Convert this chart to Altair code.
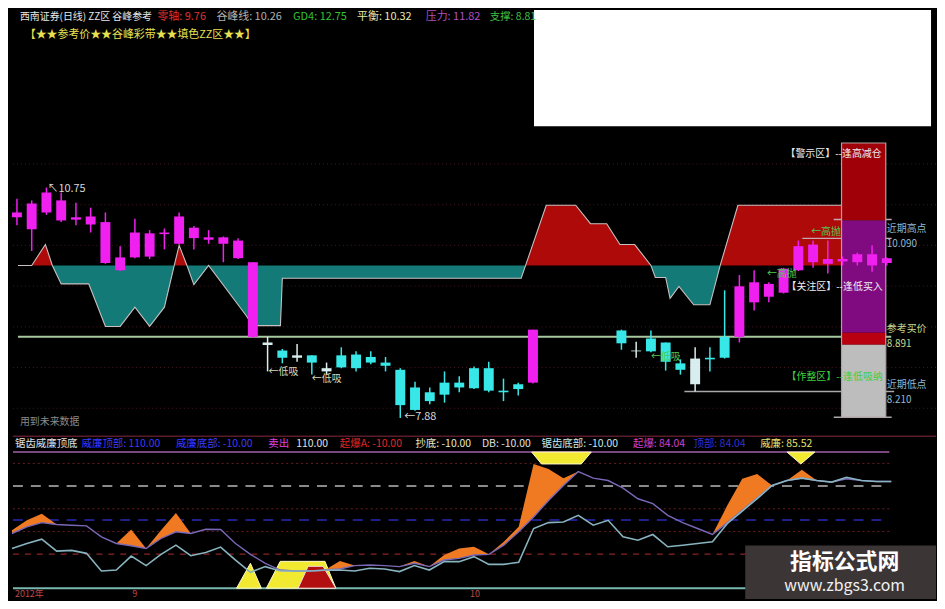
import altair as alt
import pandas as pd

FONT = "Noto Sans CJK SC"

# ---------------- price panel: candles (x = trading-day index) ----------------
cand_idx = list(range(0, 36)) + list(range(41, 60))
cand_open = [10.38, 10.23, 10.44, 10.34, 10.35, 10.29, 9.81, 9.72, 9.88, 9.89,
             10.17, 10.05, 10.12, 10.10, 10.05, 9.87, 8.89, 8.82, 8.72, 8.66,
             8.66, 8.50, 8.66, 8.67, 8.64, 8.57, 8.48, 8.26, 8.20, 8.32,
             8.32, 8.50, 8.50, 8.22, 8.30, 8.32,
             8.97, 8.72, 8.87, 8.82, 8.56, 8.62, 8.63, 8.89, 8.89, 9.32,
             9.39, 9.44, 9.72, 9.82, 9.80, 9.83, 9.82, 9.78, 9.81]
cand_close = [10.44, 10.55, 10.69, 10.59, 10.38, 10.39, 10.32, 9.88, 10.19, 10.18,
              10.19, 10.39, 10.25, 10.13, 10.13, 10.09, 9.82, 8.79, 8.63, 8.63,
              8.57, 8.46, 8.51, 8.50, 8.57, 8.53, 8.04, 7.98, 8.09, 8.17,
              8.26, 8.25, 8.22, 8.20, 8.24, 8.98,
              8.81, 8.71, 8.71, 8.58, 8.48, 8.30, 8.61, 8.63, 9.52, 9.57,
              9.55, 9.74, 10.02, 10.04, 9.86, 9.86, 9.92, 9.92, 9.87]
cand_high = [10.61, 10.59, 10.75, 10.69, 10.56, 10.50, 10.44, 10.02, 10.36, 10.22,
             10.24, 10.44, 10.27, 10.22, 10.14, 10.12, 9.82, 8.89, 8.74, 8.80,
             8.66, 8.57, 8.76, 8.71, 8.71, 8.64, 8.50, 8.33, 8.26, 8.46,
             8.40, 8.52, 8.58, 8.37, 8.32, 8.98,
             8.98, 8.83, 8.97, 8.82, 8.61, 8.76, 8.76, 9.47, 9.66, 9.72,
             9.57, 9.75, 10.09, 10.09, 10.09, 9.89, 9.94, 10.03, 9.88]
cand_low = [10.28, 9.96, 10.41, 10.32, 10.28, 10.19, 9.80, 9.71, 9.87, 9.86,
            9.98, 10.04, 9.98, 10.05, 9.82, 9.86, 8.88, 8.46, 8.56, 8.58,
            8.42, 8.42, 8.50, 8.46, 8.55, 8.46, 7.88, 7.97, 8.05, 8.07,
            8.20, 8.24, 8.20, 8.09, 8.16, 8.31,
            8.73, 8.63, 8.70, 8.47, 8.42, 8.21, 8.46, 8.62, 8.82, 9.22,
            9.32, 9.43, 9.71, 9.75, 9.68, 9.78, 9.78, 9.70, 9.78]
cand_kind = list("mmmmmmmmmmmmmmmmm") + list("wcwcwccccccccccccc") + ["m"] + \
            list("cwcccwcc") + list("mmmmmmmmmmm")

# ---------------- 谷峰彩带 band ----------------
band_x = [0.07, 1.0, 1.93, 2.4, 3.0, 4.87, 6.0, 7.0, 8.0, 9.0, 10.0, 10.67, 11.0, 11.53,
          12.0, 13.0, 15.53, 16.0, 17.87, 18.0, 34.2, 34.5, 35.9, 37.9, 38.9, 40.0,
          40.9, 41.9, 43.0, 43.3, 44.0, 44.3, 44.9, 45.9, 47.0, 47.7, 48.9, 55.9]
band_v = [9.78, 9.78, 10.04, 9.78, 9.55, 9.55, 9.02, 9.02, 9.26, 9.02, 9.26, 9.78, 10.03, 9.78,
          9.54, 9.78, 9.16, 9.03, 9.03, 9.62, 9.62, 9.78, 10.53, 10.53, 10.30, 10.30,
          10.04, 10.04, 9.78, 9.63, 9.63, 9.37, 9.52, 9.29, 9.29, 9.78, 10.53, 10.53]
band_zero = 9.78

# ---------------- reference levels ----------------
ref_buy = 8.891
grid_levels = [11.045, 10.537, 10.030, 9.523, 9.015, 8.508, 8.001]
seg_x1 = [55.4, 53.27, 45.27, 55.4]
seg_x2 = [59.33, 59.33, 59.5, 59.33]
seg_y = [10.352, 10.117, 8.211, 7.889]
seg_color = ["#c8a8b0", "#c8a8b0", "#a8a8a8", "#a8a8a8"]

zone_x1 = [55.93, 55.93, 55.93, 55.93]
zone_x2 = [58.93, 58.93, 58.93, 58.93]
zone_lo = [10.339, 8.941, 8.792, 7.889]
zone_hi = [11.305, 10.339, 8.941, 8.792]
zone_fill = ["#a00008", "#800a80", "#b80010", "#bdbdbd"]

# ---------------- indicator panel ----------------
osc_idx = list(range(60))
osc_purple = [38.2, 44.1, 47.8, 46.1, 45.5, 44.9, 35.3, 29.4, 27.4, 25.0,
              33.8, 39.7, 38.2, 41.9, 41.7, 29.4, 19.8, 11.9, 6.0, 5.2,
              5.2, 6.0, 6.9, 9.9, 10.4, 9.9, 9.0, 11.9, 9.0, 14.8,
              16.3, 19.2, 19.8, 27.9, 39.7, 52.8, 67.3, 80.5, 92.8, 87.0,
              84.9, 78.2, 68.8, 64.5, 54.2, 47.8, 42.6, 37.3, 47.8, 58.6,
              69.5, 80.5, 84.9, 87.0, 84.9, 83.5, 86.4, 84.9, 84.0, 84.0]
osc_teal = [25.0, 29.4, 33.2, 22.7, 23.3, 20.7, 5.2, 6.0, 18.3, 9.9,
            19.8, 27.9, 18.6, 21.5, 26.2, 14.8, 4.0, 9.0, 5.2, 5.2,
            5.2, 5.8, 6.0, 5.2, 7.5, 6.9, 4.6, 9.9, 6.0, 13.4,
            13.4, 17.8, 11.0, 11.0, 12.8, 42.6, 47.8, 48.4, 54.2, 45.5,
            49.8, 35.3, 32.3, 37.3, 26.5, 27.9, 29.4, 30.9, 47.0, 58.0,
            69.0, 80.5, 84.9, 87.0, 84.9, 83.5, 87.8, 84.9, 84.0, 84.0]
osc_fast = [41.1, 49.8, 55.7, 46.1, 45.5, 44.9, 35.3, 29.4, 41.7, 25.0,
            41.1, 56.3, 38.2, 41.9, 41.7, 29.4, 19.8, 11.9, 6.0, 5.2,
            5.2, 6.0, 13.9, 9.9, 10.4, 9.9, 9.0, 13.9, 9.0, 19.2,
            25.0, 26.5, 19.8, 30.9, 44.1, 99.5, 95.1, 87.0, 92.8, 87.0,
            84.9, 78.2, 68.8, 64.5, 54.2, 47.8, 42.6, 37.3, 63.0, 86.4,
            90.7, 80.5, 84.9, 94.5, 84.9, 83.5, 86.4, 84.9, 84.0, 84.0]
lvl_sell, lvl_100, lvl_80, lvl_60, lvl_50, lvl_40, lvl_20, lvl_bottom = 110, 100, 80, 60, 50, 40, 20, -10
lvl_sep = 124

mk_shape = ["t1"] * 3 + ["t2"] * 4 + ["top"] * 4 + ["x"] * 3
mk_x = [15.07, 16.0, 16.73, 17.07, 18.0, 21.0, 21.73, 34.87, 35.53, 38.2, 38.87, 52.0, 52.93, 53.87]
mk_hi = [-10, 11.9, -10, -10, 13.65, 13.65, -10, 110, 110, 110, 110, 110, 110, 110]
mk_lo = [-10, -10, -10, -10, -10, -10, -10, 110, 99.5, 99.5, 110, 110, 99.5, 110]
red_x = [19.2, 19.87, 20.87, 21.73]
red_hi = [-10, 9.27, 9.27, -10]

# ---------------- scales ----------------
X_DOMAIN = [0.0667, 62.0]
TOP_DOMAIN = [7.703, 12.963]
BOT_DOMAIN = [-19.63, 127.52]
XS = alt.Scale(domain=X_DOMAIN, nice=False, zero=False)
YT = alt.Scale(domain=TOP_DOMAIN, nice=False, zero=False)
YB = alt.Scale(domain=BOT_DOMAIN, nice=False, zero=False)


def xq(f):
    return alt.X(f"{f}:Q", scale=XS, axis=None)


def yt(f):
    return alt.Y(f"{f}:Q", scale=YT, axis=None)


def yb(f):
    return alt.Y(f"{f}:Q", scale=YB, axis=None)


def texts(rows, yfn, align="left", weight="normal"):
    df = pd.DataFrame(rows, columns=["x", "y", "t", "c", "s"])
    return alt.Chart(df).mark_text(align=align, baseline="middle", font=FONT, fontWeight=weight).encode(
        x=xq("x"), y=yfn("y"), text="t:N",
        color=alt.Color("c:N", scale=None), size=alt.Size("s:Q", scale=None))


# ================= TOP PANEL =================
cdf = pd.DataFrame({"i": cand_idx, "open": cand_open, "close": cand_close,
                    "high": cand_high, "low": cand_low, "kind": cand_kind})
cdf["top"] = cdf[["open", "close"]].max(axis=1)
cdf["bot"] = cdf[["open", "close"]].min(axis=1)
cdf["col"] = cdf["kind"].map({"m": "#f020f0", "c": "#38e8e8", "w": "#d8eeee"})

bdf = pd.DataFrame({"x": band_x, "v": band_v})
bdf["base"] = band_zero
bdf["up"] = bdf["v"].clip(lower=band_zero)
bdf["dn"] = bdf["v"].clip(upper=band_zero)

grid = alt.Chart(pd.DataFrame({"p": grid_levels})).mark_rule(
    color="#4a1820", strokeDash=[1, 3], strokeWidth=1).encode(y=yt("p"))

white = alt.Chart(pd.DataFrame({"x1": [35.07], "x2": [62.0], "y1": [11.515], "y2": [12.963]})).mark_rect(
    color="#ffffff").encode(x=xq("x1"), x2="x2", y=yt("y1"), y2="y2")

band_red = alt.Chart(bdf).mark_area(color="#ae0a0a").encode(x=xq("x"), y=yt("up"), y2="base")
band_teal = alt.Chart(bdf).mark_area(color="#137a78").encode(x=xq("x"), y=yt("dn"), y2="base")
band_line = alt.Chart(bdf).mark_line(color="#c8c0c0", strokeWidth=1.1).encode(x=xq("x"), y=yt("v"))

buy_line = alt.Chart(pd.DataFrame({"x1": [0.0667], "x2": [59.3], "y": [ref_buy]})).mark_rule(
    color="#a8c8a0", strokeWidth=2).encode(x=xq("x1"), x2="x2", y=yt("y"))

segs = alt.Chart(pd.DataFrame({"x1": seg_x1, "x2": seg_x2, "y": seg_y, "c": seg_color})).mark_rule(
    strokeWidth=1.5).encode(x=xq("x1"), x2="x2", y=yt("y"), color=alt.Color("c:N", scale=None))

zones = alt.Chart(pd.DataFrame({"x1": zone_x1, "x2": zone_x2, "y1": zone_lo, "y2": zone_hi, "f": zone_fill})).mark_rect().encode(
    x=xq("x1"), x2="x2", y=yt("y1"), y2="y2", color=alt.Color("f:N", scale=None))
zone_box = alt.Chart(pd.DataFrame({"x1": [55.93], "x2": [58.93], "y1": [min(zone_lo)], "y2": [max(zone_hi)]})).mark_rect(
    fill=None, stroke="#b0a0a0", strokeWidth=1.2).encode(x=xq("x1"), x2="x2", y=yt("y1"), y2="y2")

wicks = alt.Chart(cdf).mark_rule(strokeWidth=1.5).encode(
    x=xq("i"), y=yt("low"), y2="high", color=alt.Color("col:N", scale=None))
bodies = alt.Chart(cdf).mark_bar(size=10, minBandSize=2).encode(
    x=xq("i"), y=yt("bot"), y2="top", color=alt.Color("col:N", scale=None))

HDR1 = 12.876
HDR2 = 12.654
top_texts = texts([
    (0.2, HDR1, "西南证券(日线) ZZ区 谷峰参考", "#e8e8e8", 10),
    (9.53, HDR1, "零轴: 9.76", "#e03030", 11),
    (13.53, HDR1, "谷峰线: 10.26", "#b0b0b0", 11),
    (18.73, HDR1, "GD4: 12.75", "#30c030", 11),
    (23.07, HDR1, "平衡: 10.32", "#e8e8b0", 11),
    (27.73, HDR1, "压力: 11.82", "#b050c0", 11),
    (32.07, HDR1, "支撑: 8.81", "#40c040", 10.5),
    (0.53, HDR2, "【★★参考价★★谷峰彩带★★填色ZZ区★★】", "#e8e050", 11),
    (2.07, 10.735, "↖10.75", "#d8d8d8", 11),
    (26.27, 7.889, "←7.88", "#d8d8d8", 11),
    (17.07, 8.458, "←低吸", "#d8d8b8", 10),
    (20.0, 8.371, "←低吸", "#d8d8b8", 10),
    (43.0, 8.644, "←低吸", "#50c850", 10),
    (53.87, 10.191, "←高抛", "#50c850", 10),
    (50.87, 9.67, "←高抛", "#50c850", 10),
    (52.13, 11.169, "【警示区】--逢高减仓", "#f0f0f0", 10),
    (52.2, 9.51, "【关注区】--逢低买入", "#f0f0f0", 10),
    (52.2, 8.384, "【作整区】--逢低吸纳", "#40d040", 10),
    (59.0, 10.234, "近期高点", "#90b8d0", 10),
    (59.0, 10.049, "10.090", "#90b8d0", 10),
    (59.0, 8.985, "参考买价", "#c8d890", 10),
    (59.0, 8.800, "8.891", "#c8d890", 10),
    (59.0, 8.291, "近期低点", "#90b8d0", 10),
    (59.0, 8.106, "8.210", "#90b8d0", 10),
    (0.2, 7.827, "用到未来数据", "#8a8a8a", 10),
], yt)

top = alt.layer(grid, white, band_red, band_teal, band_line, buy_line, segs, zones, zone_box,
                wicks, bodies, top_texts).properties(width=929, height=425)

# ================= BOTTOM PANEL =================
odf = pd.DataFrame({"i": osc_idx, "P": osc_purple, "T": osc_teal, "F": osc_fast})

sep = alt.Chart(pd.DataFrame({"v": [lvl_sep]})).mark_rule(color="#5a1c2a", strokeWidth=1.5).encode(y=yb("v"))


def hline(levels, **kw):
    df = pd.DataFrame({"x1": [0.0667] * len(levels), "x2": [58.87] * len(levels), "v": levels})
    return alt.Chart(df).mark_rule(**kw).encode(x=xq("x1"), x2="x2", y=yb("v"))


g_dot = hline([lvl_100, lvl_60, lvl_40], color="#6a1c24", strokeDash=[2, 3], strokeWidth=1)
g_sell = hline([lvl_sell], color="#a060a8", strokeWidth=1.5)
g_80 = hline([lvl_80], color="#b8b8b8", strokeDash=[10, 8], strokeWidth=1.5)
g_50 = hline([lvl_50], color="#2a2ab8", strokeDash=[10, 8], strokeWidth=1.5)
g_20 = hline([lvl_20], color="#8a2424", strokeDash=[6, 6], strokeWidth=1.2)
g_bot = hline([lvl_bottom], color="#78b8b0", strokeWidth=2)

mdf = pd.DataFrame({"shape": mk_shape, "x": mk_x, "hi": mk_hi, "lo": mk_lo})
markers = alt.Chart(mdf).mark_area(color="#f2ea30", stroke="#fffbd0", strokeWidth=1).encode(
    x=xq("x"), y=yb("hi"), y2="lo", detail="shape:N")
red_mk = alt.Chart(pd.DataFrame({"x": red_x, "hi": red_hi, "lo": [-10] * 4})).mark_area(
    color="#b21010", stroke="#f0e0e0", strokeWidth=1).encode(x=xq("x"), y=yb("hi"), y2="lo")

orange = alt.Chart(odf).mark_area(color="#f07a22").encode(x=xq("i"), y=yb("F"), y2="P")
purple = alt.Chart(odf).mark_line(color="#7a68b8", strokeWidth=1.4).encode(x=xq("i"), y=yb("P"))
teal = alt.Chart(odf).mark_line(color="#88b4c0", strokeWidth=1.6).encode(x=xq("i"), y=yb("T"))

wm_box = alt.Chart(pd.DataFrame({"x1": [49.2], "x2": [62.0], "y1": [-19.63], "y2": [27.67]})).mark_rect(
    color="#3b3535").encode(x=xq("x1"), x2="x2", y=yb("y1"), y2="y2")
wm_title = texts([(55.87, 12.8, "指标公式网", "#ffffff", 22)], yb, align="center", weight="bold")
wm_url = texts([(55.87, -8.3, "www.zbgs3.com", "#f0f0f0", 16)], yb, align="center")

bot_texts = texts([
    (0.2, 117.0, "锯齿威廉顶底", "#e0e0e0", 10.5),
    (4.67, 117.0, "威廉顶部: 110.00", "#3a3aff", 10.5),
    (11.0, 117.0, "威廉底部: -10.00", "#3a3aff", 10.5),
    (17.2, 117.0, "卖出", "#e040e0", 10.5),
    (19.07, 117.0, "110.00", "#e0e0e0", 10.5),
    (22.0, 117.0, "起爆A: -10.00", "#e02828", 10.5),
    (27.07, 117.0, "抄底: -10.00", "#e8e8c8", 10.5),
    (31.53, 117.0, "DB: -10.00", "#e0e0e0", 10.5),
    (35.53, 117.0, "锯齿底部: -10.00", "#c8e8e8", 10.5),
    (41.67, 117.0, "起爆: 84.04", "#d040d0", 10.5),
    (45.73, 117.0, "顶部: 84.04", "#3030d0", 10.5),
    (50.2, 117.0, "威廉: 85.52", "#e8e070", 10.5),
    (0.2, -14.8, "2012年", "#c04848", 9),
    (8.07, -14.8, "9", "#c04848", 9),
    (30.73, -14.8, "10", "#c04848", 9),
], yb)

bottom = alt.layer(sep, g_dot, g_sell, g_80, g_50, g_20, g_bot, markers, red_mk, orange, purple, teal,
                   wm_box, wm_title, wm_url, bot_texts).properties(width=929, height=168)

chart = alt.vconcat(top, bottom, spacing=0).resolve_scale(x="independent", y="independent").properties(
    background="#000000", padding=0).configure_view(strokeWidth=0)

chart.save("out.html", embed_options={"renderer": "svg", "actions": False})
